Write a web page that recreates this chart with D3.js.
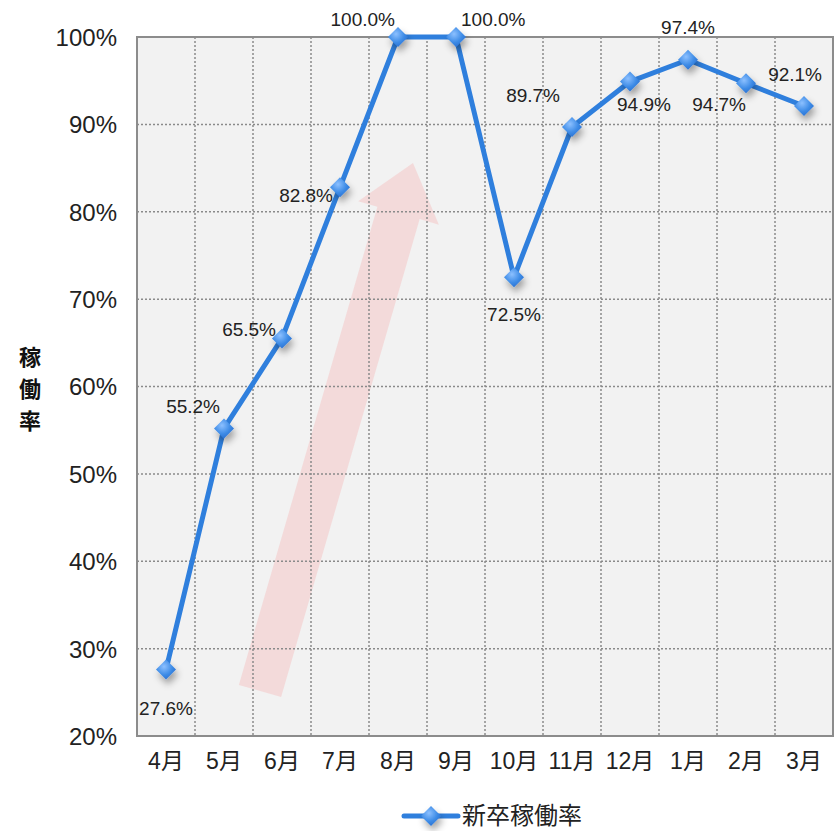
<!DOCTYPE html>
<html><head><meta charset="utf-8">
<script src="https://cdn.jsdelivr.net/npm/d3@7"></script>
<style>
body{margin:0;background:#fff;}
text{font-family:"Liberation Sans","Noto Sans CJK JP",sans-serif;}
</style></head>
<body>
<svg id="c" width="837" height="831"></svg>
<script>
const months = ["4月","5月","6月","7月","8月","9月","10月","11月","12月","1月","2月","3月"];
const rates = [27.6,55.2,65.5,82.8,100.0,100.0,72.5,89.7,94.9,97.4,94.7,92.1];
const yTicks = [20,30,40,50,60,70,80,90,100];
// label placement: [anchor, dx, dy] relative to point
const labelPos = [
  ["middle",0,39],["end",-4,-22],["end",-6,-9],["end",-7,8],
  ["end",-3,-18],["start",5,-18],["middle",0,37],["end",-12,-32],
  ["start",-13,23],["middle",0,-32],["end",0,21],["end",18,-32]
];
const seriesName = "新卒稼働率";
const axisTitle = ["稼","働","率"];

const svg = d3.select("#c");
const L=137, T=37, R=833, B=736;
const x = d3.scaleBand().domain(months).range([L,R]);
const y = d3.scaleLinear().domain([20,100]).range([B,T]);

const defs = svg.append("defs");
const g = defs.append("radialGradient").attr("id","mk").attr("cx","40%").attr("cy","35%").attr("r","70%");
g.append("stop").attr("offset","0%").attr("stop-color","#8cc0ff");
g.append("stop").attr("offset","60%").attr("stop-color","#3d8be6");
g.append("stop").attr("offset","100%").attr("stop-color","#2a6fd0");
const f = defs.append("filter").attr("id","sh").attr("x","-60%").attr("y","-60%").attr("width","220%").attr("height","220%");
f.append("feDropShadow").attr("dx",2).attr("dy",5).attr("stdDeviation",3.5).attr("flood-color","#000").attr("flood-opacity",0.35);

// plot background
svg.append("rect").attr("x",L).attr("y",T).attr("width",R-L).attr("height",B-T).attr("fill","#f2f2f2");

// arrow decoration
(function(){
  const tail=[260,691], tip=[413,163];
  const dx=tip[0]-tail[0], dy=tip[1]-tail[1], len=Math.hypot(dx,dy);
  const ux=dx/len, uy=dy/len, px=-uy, py=ux;
  const sw=22, hw=42, hl=52;
  const hb=[tip[0]-ux*hl, tip[1]-uy*hl];
  const pts=[
    [tail[0]+px*sw, tail[1]+py*sw],[hb[0]+px*sw,hb[1]+py*sw],[hb[0]+px*hw,hb[1]+py*hw],
    tip,[hb[0]-px*hw,hb[1]-py*hw],[hb[0]-px*sw,hb[1]-py*sw],[tail[0]-px*sw, tail[1]-py*sw]
  ];
  svg.append("polygon").attr("points",pts.map(p=>p.join(",")).join(" "))
    .attr("fill","#f3d6d6").attr("opacity",0.85);
})();

// grid
const grid = svg.append("g").attr("stroke","#8a8a8a").attr("stroke-width",1.5).attr("stroke-dasharray","2,2");
yTicks.slice(1,-1).forEach(t=>{
  grid.append("line").attr("x1",L).attr("x2",R).attr("y1",y(t)).attr("y2",y(t));
});
months.slice(1).forEach(m=>{
  grid.append("line").attr("x1",x(m)).attr("x2",x(m)).attr("y1",T).attr("y2",B);
});

// border
svg.append("rect").attr("x",L).attr("y",T).attr("width",R-L).attr("height",B-T)
  .attr("fill","none").attr("stroke","#8c8c8c").attr("stroke-width",2);

// y axis labels
const yAxis = d3.axisLeft(y).tickValues(yTicks).tickFormat(d=>d+"%").tickSize(0).tickPadding(20);
const ya = svg.append("g").attr("transform",`translate(${L},0)`).call(yAxis);
ya.select(".domain").remove();
ya.selectAll("text").attr("font-size",24).attr("fill","#222").attr("dy","0.35em")
  .attr("font-family","'Liberation Sans','Noto Sans CJK JP',sans-serif");

// x axis labels
const xAxis = d3.axisBottom(x).tickSize(0).tickPadding(20);
const xa = svg.append("g").attr("transform",`translate(0,${B})`).call(xAxis);
xa.select(".domain").remove();
xa.selectAll("text").attr("font-size",23).attr("fill","#222").attr("dy","0.55em")
  .attr("font-family","'Liberation Sans','Noto Sans CJK JP',sans-serif");

// axis title
axisTitle.forEach((c,i)=>{
  svg.append("text").attr("x",30).attr("y",357+i*32).attr("dy","0.35em").attr("text-anchor","middle")
    .attr("font-family","'Noto Sans CJK JP',sans-serif")
    .attr("font-size",22).attr("font-weight","bold").attr("fill","#111").text(c);
});

// line
const cx = d=>x(d)+x.bandwidth()/2;
const data = months.map((m,i)=>({m,v:rates[i],lp:labelPos[i]}));
svg.append("path").datum(data)
  .attr("d",d3.line().x(d=>cx(d.m)).y(d=>y(d.v)))
  .attr("fill","none").attr("stroke","#2f7fdd").attr("stroke-width",5).attr("stroke-linejoin","round");

const diamond = "M0,-10 L10,0 L0,10 L-10,0 Z";
svg.append("g").selectAll("path").data(data).join("path")
  .attr("d",diamond).attr("transform",d=>`translate(${cx(d.m)},${y(d.v)})`)
  .attr("fill","url(#mk)").attr("filter","url(#sh)");

// labels
svg.append("g").selectAll("text").data(data).join("text")
  .attr("x",d=>cx(d.m)+d.lp[1]).attr("y",d=>y(d.v)+d.lp[2]).attr("dy","0.35em")
  .attr("text-anchor",d=>d.lp[0]).attr("font-size",19).attr("fill","#222")
  .text(d=>d.v.toFixed(1)+"%");

// legend
const lg = svg.append("g").attr("transform","translate(0,816)");
lg.append("line").attr("x1",404).attr("x2",458).attr("y1",0).attr("y2",0).attr("stroke","#2f7fdd").attr("stroke-width",5).attr("stroke-linecap","round");
lg.append("path").attr("d",diamond).attr("transform","translate(431,0)").attr("fill","url(#mk)").attr("filter","url(#sh)");
lg.append("text").attr("x",462).attr("y",0).attr("dy","0.35em").attr("font-size",24)
  .attr("font-family","'Noto Sans CJK JP',sans-serif").attr("fill","#222").text(seriesName);
</script>
</body></html>
